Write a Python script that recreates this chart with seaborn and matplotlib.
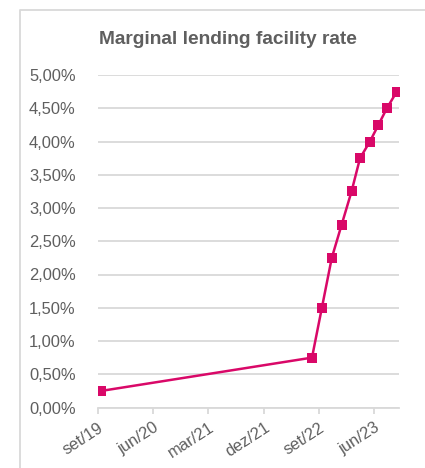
import matplotlib
matplotlib.use("Agg")
import matplotlib.pyplot as plt
from matplotlib.lines import Line2D
import seaborn as sns
import pandas as pd

# ECB marginal lending facility rate, dates of change and rate (%)
dates = ["2019-09-18", "2022-07-27", "2022-09-14", "2022-11-02", "2022-12-21",
         "2023-02-08", "2023-03-22", "2023-05-10", "2023-06-21", "2023-08-02",
         "2023-09-20"]
rates = [0.25, 0.75, 1.50, 2.25, 2.75, 3.25, 3.75, 4.00, 4.25, 4.50, 4.75]

tick_dates = ["2019-09-01", "2020-06-01", "2021-03-01", "2021-12-01",
              "2022-09-01", "2023-06-01"]
tick_labels = ["set/19", "jun/20", "mar/21", "dez/21", "set/22", "jun/23"]
y_ticks = [0.0, 0.5, 1.0, 1.5, 2.0, 2.5, 3.0, 3.5, 4.0, 4.5, 5.0]

df = pd.DataFrame({"date": pd.to_datetime(dates), "rate": rates})

sns.set_theme(style="white")
plt.rcParams["font.family"] = ["Liberation Sans", "DejaVu Sans"]

W, H = 425, 468
fig = plt.figure(figsize=(W / 100, H / 100), dpi=100)
ax = fig.add_axes([98 / W, 1 - 407.5 / H, (399 - 98) / W, (407.5 - 75) / H])

line_color = "#D90868"
grid_color = "#D9D9D9"
text_color = "#5F5F5F"

sns.lineplot(data=df, x="date", y="rate", ax=ax, color=line_color,
             linewidth=1.8, marker="s", markersize=7, markeredgewidth=0,
             markerfacecolor=line_color)

ax.set_ylim(0, 5)
ax.set_xlim(pd.Timestamp("2019-09-01"), pd.Timestamp("2023-10-01"))
ax.set_yticks(y_ticks)
ax.set_yticklabels([f"{v:.2f}%".replace(".", ",") for v in y_ticks])
ax.set_xticks(pd.to_datetime(tick_dates))
ax.set_xticklabels(tick_labels, rotation=33, ha="right",
                   rotation_mode="anchor")

ax.grid(axis="y", color=grid_color, linewidth=1.3)
ax.set_axisbelow(True)
for s in ["left", "right", "top"]:
    ax.spines[s].set_visible(False)
ax.spines["bottom"].set_color(grid_color)
ax.spines["bottom"].set_linewidth(1.3)

ax.tick_params(axis="y", length=0, pad=16, labelsize=11.9, labelcolor=text_color)
ax.tick_params(axis="x", direction="out", length=4, width=1.3, color=grid_color,
               pad=5, labelsize=11.9, labelcolor=text_color, bottom=True)
for lbl in ax.get_xticklabels():
    lbl.set_x(lbl.get_position()[0])
ax.set_xlabel("")
ax.set_ylabel("")

fig.text(228 / W, 1 - 39 / H, "Marginal lending facility rate",
         ha="center", va="center", fontsize=13.8, fontweight="bold",
         color=text_color)

# chart frame
fig.add_artist(Line2D([20 / W, 20 / W, 1.0], [0.0, 1 - 10 / H, 1 - 10 / H],
                      transform=fig.transFigure, color=grid_color,
                      linewidth=1.3))

fig.savefig("out.png", dpi=100, facecolor="white")
